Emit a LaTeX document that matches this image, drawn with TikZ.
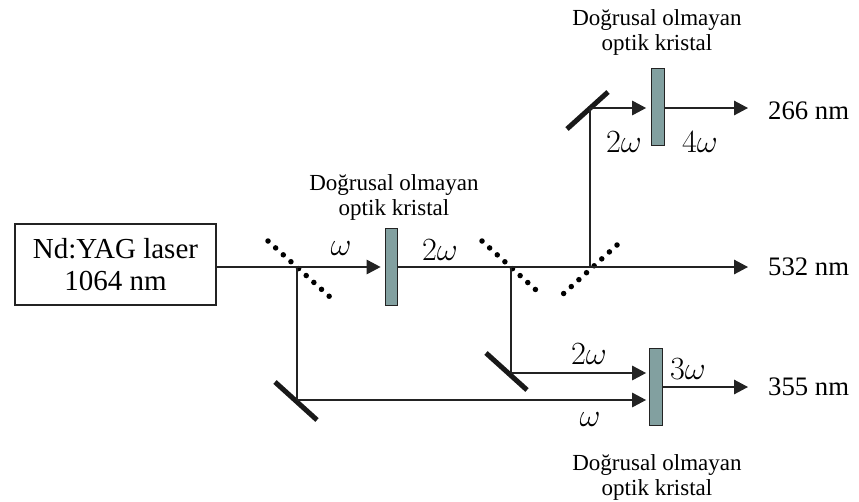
\documentclass[tikz,border=0pt]{standalone}
\usepackage{amsmath}
\usepackage{fontspec}
\setmainfont{Liberation Serif}
\usetikzlibrary{arrows.meta}
\definecolor{crystalcol}{RGB}{130,160,160}
\definecolor{beamcol}{RGB}{35,35,35}
\tikzstyle{beam} = [line width=1.5pt,draw=beamcol]
\tikzstyle{arrow} = [beam,-{Triangle[length=14pt,width=14.5pt]}]
\begin{document}
\begin{tikzpicture}[x=1pt,y=-1pt,
    crystal/.style={rectangle,draw=beamcol,line width=1.3pt,fill=crystalcol,minimum width=12.5pt,minimum height=77pt,inner sep=0pt},
    lbl/.style={font=\fontsize{23}{25}\selectfont,align=center},
    wl/.style={font=\fontsize{26.7}{28}\selectfont,anchor=west,inner sep=0pt},
    freq/.style={font=\fontsize{24}{26}\selectfont,scale=1.3},
    mirror/.style={line width=5pt,draw=black!90},
    dots/.style={line width=5.5pt,line cap=round,dash pattern=on 0pt off 10.3pt}]
    \useasboundingbox (0,0) rectangle (859,501);
    \node[draw,line width=1.5pt,draw=beamcol,minimum width=201pt,minimum height=81pt,align=center,font=\fontsize{29}{32}\selectfont] (laser) at (115.5,264.5) {Nd:YAG laser\\1064 nm};
    \node[crystal] (c1) at (391.5,267) {};
    \node[crystal] (c2) at (658,107) {};
    \node[crystal] (c3) at (656,387) {};
    \coordinate (s1) at (297,267);
    \coordinate (s2) at (511,267);
    \coordinate (s3) at (590,267);
    \coordinate (m1) at (297,400);
    \coordinate (m2) at (511,373);
    \coordinate (m3) at (590,108);
    \coordinate (e1) at (748,267);
    \coordinate (e2) at (748,108);
    \coordinate (e3) at (748,387);
    \draw[dots] (268,241) -- (330,297);
    \draw[dots] (482,241) -- (536,290);
    \draw[dots] (617,245) -- (562,295);
    \draw[mirror] (275,382) -- (317,420);
    \draw[mirror] (486,353) -- (527,390);
    \draw[mirror] (567,129) -- (608,92);
    \draw[arrow,shorten >=4pt] (laser.east |- s1) -- (s1) -- (c1.west);
    \draw[beam] (c1.east) -- (s2);
    \draw[arrow] (s2) -- (e1);
    \draw[beam] (s1) -- (m1);
    \draw[arrow,shorten >=3pt] (m1) -- (c3.west |- m1);
    \draw[beam] (s2) -- (m2);
    \draw[arrow,shorten >=3pt] (m2) -- (c3.west |- m2);
    \draw[beam] (s3) -- (m3);
    \draw[arrow,shorten >=5pt] (m3) -- (c2.west |- m3);
    \draw[arrow] (c2.east |- e2) -- (e2);
    \draw[arrow] (c3.east) -- (e3);
    \node[lbl] (t1) at (394,197) {Doğrusal olmayan\\optik kristal};
    \node[lbl] (t2) at (657,32) {Doğrusal olmayan\\optik kristal};
    \node[lbl] (t3) at (657,477) {Doğrusal olmayan\\optik kristal};
    \node[wl] (w1) at (768,111) {266 nm};
    \node[wl] (w2) at (768,267) {532 nm};
    \node[wl] (w3) at (768,387) {355 nm};
    \node[freq] (f1) at (341,249) {$\omega$};
    \node[freq] (f2) at (440,250) {$2\omega$};
    \node[freq] (f3) at (624,142) {$2\omega$};
    \node[freq] (f4) at (700,142) {$4\omega$};
    \node[freq] (f5) at (589,354) {$2\omega$};
    \node[freq] (f6) at (688,369) {$3\omega$};
    \node[freq] (f7) at (590,420) {$\omega$};
\end{tikzpicture}
\end{document}
